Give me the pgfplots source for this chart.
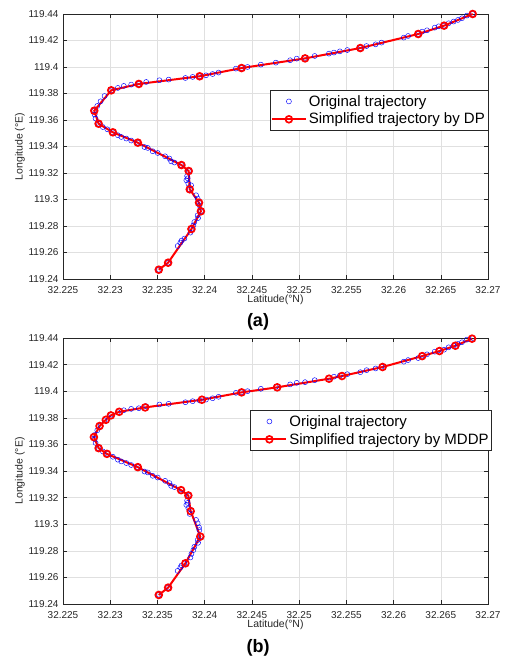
\documentclass[border=0pt]{standalone}
\usepackage{pgfplots}
\pgfplotsset{compat=1.18}
\usepackage{pgfplotstable}
\usepackage{fontspec}
\setmainfont{Liberation Sans}

\definecolor{axgray}{gray}{0.15}
\definecolor{gridgray}{gray}{0.88}

\pgfplotstableread{
lat lon
32.23514 119.2470
32.23613 119.2523
32.23714 119.2649
32.23743 119.2675
32.23755 119.2690
32.23785 119.2705
32.23849 119.2750
32.23860 119.2777
32.23880 119.2805
32.23891 119.2830
32.23930 119.2860
32.23926 119.2881
32.23960 119.2911
32.23944 119.2956
32.23940 119.2976
32.23926 119.3007
32.23909 119.3032
32.23842 119.3077
32.23856 119.3107
32.23827 119.3120
32.23806 119.3145
32.23820 119.3160
32.23814 119.3177
32.23831 119.3215
32.23754 119.3260
32.23680 119.3279
32.23645 119.3288
32.23627 119.3309
32.23581 119.3326
32.23503 119.3351
32.23450 119.3364
32.23398 119.3389
32.23363 119.3396
32.23292 119.3429
32.23222 119.3445
32.23170 119.3460
32.23117 119.3472
32.23081 119.3485
32.23028 119.3507
32.22969 119.3530
32.22922 119.3547
32.22877 119.3572
32.22845 119.3611
32.22835 119.3641
32.22831 119.3670
32.22863 119.3706
32.22898 119.3741
32.22940 119.3781
32.23011 119.3824
32.23081 119.3842
32.23144 119.3857
32.23222 119.3867
32.23303 119.3872
32.23381 119.3887
32.23521 119.3900
32.23619 119.3905
32.23796 119.3917
32.23873 119.3925
32.23947 119.3930
32.24014 119.3937
32.24084 119.3947
32.24147 119.3958
32.24331 119.3988
32.24391 119.3992
32.24454 119.4000
32.24595 119.4018
32.24754 119.4033
32.24905 119.4051
32.24975 119.4063
32.25063 119.4068
32.25165 119.4083
32.25316 119.4101
32.25369 119.4109
32.25432 119.4118
32.25510 119.4128
32.25648 119.4143
32.25714 119.4158
32.25810 119.4171
32.25873 119.4184
32.26108 119.4222
32.26154 119.4234
32.26261 119.4249
32.26302 119.4267
32.26354 119.4277
32.26436 119.4297
32.26478 119.4307
32.26535 119.4312
32.26583 119.4330
32.26636 119.4343
32.26682 119.4355
32.26724 119.4368
32.26777 119.4388
32.26838 119.4400
}\tabOrig

\pgfplotstableread{
lat lon
32.23514 119.2470
32.23613 119.2523
32.23860 119.2777
32.23960 119.2911
32.23940 119.2976
32.23842 119.3077
32.23831 119.3215
32.23754 119.3260
32.23292 119.3429
32.23028 119.3507
32.22877 119.3572
32.22831 119.3670
32.23011 119.3824
32.23303 119.3872
32.23947 119.3930
32.24391 119.3992
32.25063 119.4065
32.25648 119.4143
32.26261 119.4249
32.26535 119.4312
32.26838 119.4400
}\tabDP

\pgfplotstableread{
lat lon
32.23514 119.2468
32.23613 119.2523
32.23796 119.2706
32.23954 119.2907
32.23852 119.3098
32.23827 119.3216
32.23750 119.3256
32.23292 119.3429
32.22965 119.3529
32.22877 119.3572
32.22827 119.3655
32.22887 119.3738
32.22954 119.3785
32.23007 119.3818
32.23095 119.3845
32.23370 119.3878
32.23971 119.3936
32.24391 119.3991
32.24768 119.4029
32.25317 119.4094
32.25454 119.4114
32.25884 119.4182
32.26303 119.4264
32.26486 119.4302
32.26655 119.4342
32.26831 119.4395
}\tabMDDP

\pgfplotsset{
  trajaxis/.style={
    scale only axis, width=425pt,
    xmin=32.225, xmax=32.27, ymin=119.24, ymax=119.44,
    scaled ticks=false,
    xtick={32.225,32.23,32.235,32.24,32.245,32.25,32.255,32.26,32.265,32.27},
    xticklabels={32.225,32.23,32.235,32.24,32.245,32.25,32.255,32.26,32.265,32.27},
    ytick={119.24,119.26,119.28,119.3,119.32,119.34,119.36,119.38,119.4,119.42,119.44},
    yticklabels={119.24,119.26,119.28,119.3,119.32,119.34,119.36,119.38,119.4,119.42,119.44},
    grid=major, major grid style={gridgray, line width=0.5pt},
    axis line style={axgray, line width=0.5pt},
    tick style={axgray, line width=0.5pt}, tick align=inside, major tick length=4pt,
    xticklabel style={font=\fontsize{10}{12}\selectfont, text=axgray, yshift=-4pt},
    yticklabel style={font=\fontsize{10}{12}\selectfont, text=axgray, xshift=-1pt},
    xlabel={Latitude(°N)}, ylabel={Longitude (°E)},
    every axis x label/.style={at={(axis description cs:0.5,0)}, anchor=center, yshift=-21pt, font=\fontsize{10.5}{12}\selectfont, text=axgray},
    every axis y label/.style={at={(axis description cs:0,0.5)}, anchor=center, xshift=-43pt, rotate=90, font=\fontsize{10.5}{12}\selectfont, text=axgray},
    legend cell align=left,
    legend style={font=\fontsize{15}{17}\selectfont, draw=axgray, fill=white,
      inner xsep=1pt, inner ysep=3pt, row sep=1.5pt},
  },
  origstyle/.style={only marks, mark=o, mark size=2.5pt, color=blue, mark options={line width=0.45pt},
    legend image code/.code={\draw[mark repeat=2,mark phase=2,##1] plot coordinates {(0pt,0pt) (17pt,0pt) (34pt,0pt)};}},
  simpstyle/.style={red, line width=2pt, mark=o, mark size=3.4pt, mark options={line width=1.7pt},
    legend image code/.code={\draw[line width=2pt, mark repeat=2,mark phase=2,##1] plot coordinates {(0pt,0pt) (17pt,0pt) (34pt,0pt)};}},
}

\begin{document}
\begin{tikzpicture}
\path[use as bounding box] (0pt,0pt) rectangle (506pt,659pt);

\begin{axis}[trajaxis, at={(63pt,380pt)}, anchor=south west, height=265pt,
  legend style={at={(1,0.713)}, anchor=north east}]
\addplot[origstyle] table[x=lat,y=lon] {\tabOrig};
\addlegendentry{Original trajectory}
\addplot[simpstyle] table[x=lat,y=lon] {\tabDP};
\addlegendentry{Simplified trajectory by DP}
\end{axis}
\node[font=\bfseries\fontsize{18}{20}\selectfont] at (258pt,337pt) {(a)};

\begin{axis}[trajaxis, at={(63pt,55pt)}, anchor=south west, height=266pt,
  legend style={at={(1.009,0.729)}, anchor=north east}]
\addplot[origstyle] table[x=lat,y=lon] {\tabOrig};
\addlegendentry{Original trajectory}
\addplot[simpstyle] table[x=lat,y=lon] {\tabMDDP};
\addlegendentry{Simplified trajectory by MDDP}
\end{axis}
\node[font=\bfseries\fontsize{18}{20}\selectfont] at (258pt,11pt) {(b)};
\end{tikzpicture}
\end{document}
